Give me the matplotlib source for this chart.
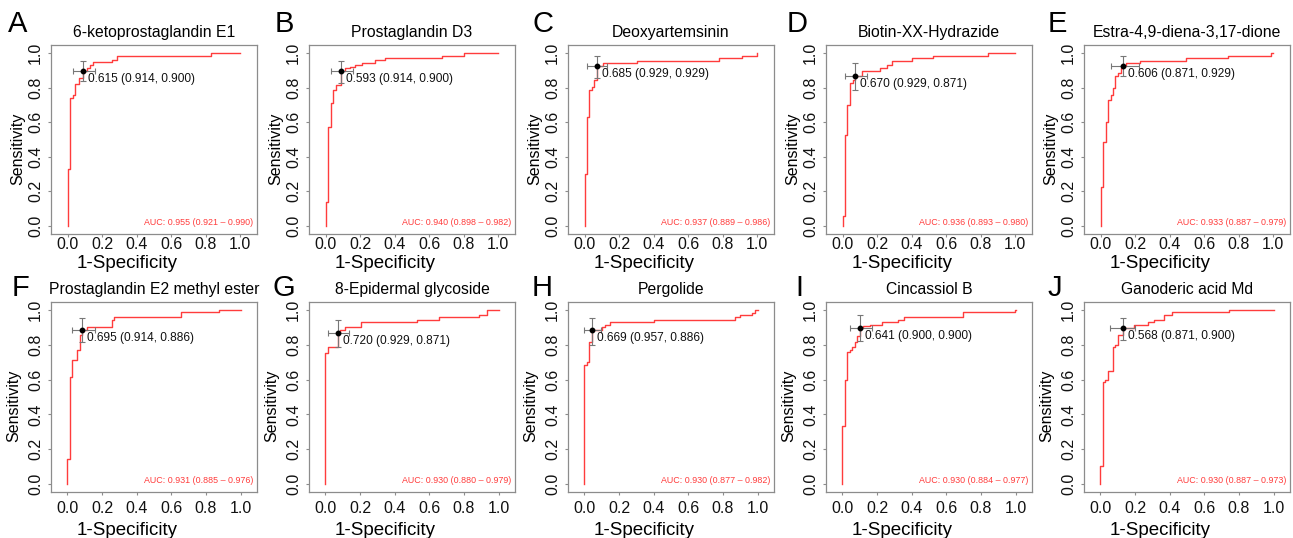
import matplotlib
matplotlib.use("Agg")
import matplotlib.pyplot as plt
import numpy as np

plt.rcParams["font.family"] = ["Liberation Sans", "DejaVu Sans"]

# ── Panel content ──
letters = list("ABCDEFGHIJ")
titles = ["6-ketoprostaglandin E1", "Prostaglandin D3", "Deoxyartemsinin",
          "Biotin-XX-Hydrazide", "Estra-4,9-diena-3,17-dione",
          "Prostaglandin E2 methyl ester", "8-Epidermal glycoside", "Pergolide",
          "Cincassiol B", "Ganoderic acid Md"]

auc = [0.955, 0.940, 0.937, 0.936, 0.933, 0.931, 0.930, 0.930, 0.930, 0.930]
auc_lo = [0.921, 0.898, 0.889, 0.893, 0.887, 0.885, 0.880, 0.877, 0.884, 0.887]
auc_hi = [0.990, 0.982, 0.986, 0.980, 0.979, 0.976, 0.979, 0.982, 0.977, 0.973]

# best threshold with its specificity / sensitivity
thresh = [0.615, 0.593, 0.685, 0.670, 0.606, 0.695, 0.720, 0.669, 0.641, 0.568]
best_sp = [0.914, 0.914, 0.929, 0.929, 0.871, 0.914, 0.929, 0.957, 0.900, 0.871]
best_se = [0.900, 0.900, 0.929, 0.871, 0.929, 0.886, 0.871, 0.886, 0.900, 0.900]

# CI of the threshold point (1-specificity range, sensitivity range)
fpr_ci_lo = [0.030, 0.029, 0.013, 0.013, 0.058, 0.029, 0.015, 0.000, 0.042, 0.058]
fpr_ci_hi = [0.160, 0.160, 0.129, 0.143, 0.220, 0.159, 0.137, 0.096, 0.173, 0.202]
se_ci_lo = [0.840, 0.826, 0.855, 0.788, 0.869, 0.815, 0.788, 0.802, 0.825, 0.831]
se_ci_hi = [0.955, 0.955, 0.985, 0.942, 0.985, 0.956, 0.942, 0.956, 0.971, 0.956]

# ROC staircase: at each 1-specificity value the sensitivity rises to tpr
roc_fpr = [
    [0, 0.014, 0.029, 0.043, 0.066, 0.087, 0.114, 0.13, 0.145, 0.255, 0.284, 0.83],
    [0, 0.015, 0.029, 0.044, 0.06, 0.087, 0.112, 0.141, 0.17, 0.209, 0.286, 0.344, 0.672, 0.801],
    [0, 0.013, 0.027, 0.042, 0.056, 0.071, 0.108, 0.30, 0.78, 0.909],
    [0, 0.01, 0.027, 0.043, 0.058, 0.071, 0.114, 0.216, 0.254, 0.283, 0.40, 0.524, 0.842],
    [0, 0.013, 0.029, 0.042, 0.058, 0.071, 0.085, 0.10, 0.116, 0.129, 0.148, 0.225, 0.495, 0.74, 0.987],
    [0, 0.014, 0.029, 0.056, 0.072, 0.086, 0.114, 0.255, 0.269, 0.658, 0.874],
    [0, 0.014, 0.071, 0.083, 0.112, 0.207, 0.527, 0.658, 0.884, 0.932],
    [0, 0.013, 0.029, 0.043, 0.10, 0.12, 0.148, 0.40, 0.872, 0.90, 0.967, 0.983],
    [0, 0.013, 0.027, 0.043, 0.058, 0.071, 0.085, 0.10, 0.119, 0.158, 0.226, 0.322, 0.355, 0.694, 0.996],
    [0, 0.013, 0.027, 0.042, 0.071, 0.087, 0.101, 0.129, 0.197, 0.274, 0.312, 0.37, 0.412, 0.742],
]
roc_tpr = [
    [0.33, 0.74, 0.76, 0.82, 0.855, 0.90, 0.913, 0.932, 0.948, 0.96, 0.986, 1.0],
    [0.14, 0.575, 0.714, 0.788, 0.817, 0.90, 0.913, 0.923, 0.932, 0.946, 0.96, 0.971, 0.986, 1.0],
    [0.30, 0.63, 0.788, 0.807, 0.846, 0.929, 0.946, 0.956, 0.971, 0.986],
    [0.054, 0.527, 0.70, 0.83, 0.846, 0.871, 0.90, 0.913, 0.932, 0.956, 0.971, 0.986, 1.0],
    [0.224, 0.483, 0.60, 0.73, 0.76, 0.80, 0.869, 0.888, 0.913, 0.929, 0.946, 0.958, 0.971, 0.986, 1.0],
    [0.142, 0.615, 0.715, 0.773, 0.86, 0.886, 0.904, 0.946, 0.96, 0.988, 1.0],
    [0.754, 0.787, 0.871, 0.888, 0.904, 0.933, 0.946, 0.96, 0.971, 1.0],
    [0.687, 0.702, 0.82, 0.886, 0.904, 0.917, 0.93, 0.946, 0.96, 0.971, 0.983, 1.0],
    [0.33, 0.60, 0.758, 0.773, 0.787, 0.815, 0.85, 0.90, 0.912, 0.917, 0.93, 0.942, 0.96, 0.988, 1.0],
    [0.104, 0.585, 0.60, 0.648, 0.787, 0.802, 0.86, 0.90, 0.917, 0.93, 0.946, 0.975, 0.988, 1.0],
]

ticks = [0.0, 0.2, 0.4, 0.6, 0.8, 1.0]
tick_labels = ["0.0", "0.2", "0.4", "0.6", "0.8", "1.0"]

# ── Layout (pixels) ──
W, H = 1293, 538
col_left = [51, 309, 568, 826, 1084]
row_top = [45, 302]
row_h = [189, 190]
ax_w = 206
xtick_pad = [0.3, 4.0]
xlab_base = [34, 43]      # baseline of "1-Specificity" below the frame
ylab_off = [33, 37]
letter_x = [8, 275, 532, 787, 1048, 12, 273, 532, 795, 1048]
letter_base = [32, 296]

RED = "#ff3c3c"
GREY = "#8c8c8c"

fig = plt.figure(figsize=(W / 100, H / 100), dpi=100)

for k in range(10):
    r, c = divmod(k, 5)
    left, top, h = col_left[c], row_top[r], row_h[r]
    ax = fig.add_axes([left / W, 1 - (top + h) / H, ax_w / W, h / H])

    x = np.r_[0, roc_fpr[k], 1.0]
    y = np.r_[0, roc_tpr[k], 1.0]
    ax.plot(x, y, drawstyle="steps-post", color=RED, lw=1.0, zorder=2)

    bx, by = 1 - best_sp[k], best_se[k]
    ax.errorbar(bx, by,
                xerr=[[bx - fpr_ci_lo[k]], [fpr_ci_hi[k] - bx]],
                yerr=[[by - se_ci_lo[k]], [se_ci_hi[k] - by]],
                fmt="none", ecolor="#777777", elinewidth=0.8, capsize=2.2,
                capthick=0.8, zorder=3)
    ax.plot(bx, by, "o", color="black", ms=3.2, zorder=4)
    ax.annotate(f"{thresh[k]:.3f} ({best_sp[k]:.3f}, {best_se[k]:.3f})",
                (bx, by), xytext=(5, -8), textcoords="offset pixels",
                ha="left", va="center", fontsize=8.6, color="#111111")

    ax.text(0.98, 0.06, f"AUC: {auc[k]:.3f} ({auc_lo[k]:.3f} – {auc_hi[k]:.3f})",
            transform=ax.transAxes, ha="right", va="center",
            fontsize=6.4, color=RED)

    span = ax_w / (h / 1.096)
    ax.set_xlim(0.5 - span / 2, 0.5 + span / 2)
    ax.set_ylim(-0.048, 1.048)
    ax.set_xticks(ticks)
    ax.set_xticklabels(tick_labels)
    ax.set_yticks(ticks)
    ax.set_yticklabels(tick_labels, rotation=90, va="center")
    ax.tick_params(direction="out", length=2.2, width=0.8, color=GREY,
                   labelsize=11.5, labelcolor="#111111")
    ax.tick_params(axis="x", pad=xtick_pad[r])
    ax.tick_params(axis="y", pad=3.4)
    for s in ax.spines.values():
        s.set_color(GREY)
        s.set_linewidth(0.9)

    ax.set_xlabel("1-Specificity", fontsize=13.5)
    ax.xaxis.set_label_coords(0.5 - 27 / ax_w, -xlab_base[r] / h)
    ax.xaxis.label.set_va("baseline")
    ax.set_ylabel("Sensitivity", fontsize=11.5)
    ax.yaxis.set_label_coords(-ylab_off[r] / ax_w, 0.5 - 9 / h)
    ax.yaxis.label.set_va("center")

    ax.set_title(titles[k], fontsize=11.3, pad=6)
    fig.text(letter_x[k] / W, 1 - letter_base[r] / H, letters[k],
             fontsize=21, ha="left", va="baseline")

fig.savefig("out.png", dpi=100)
